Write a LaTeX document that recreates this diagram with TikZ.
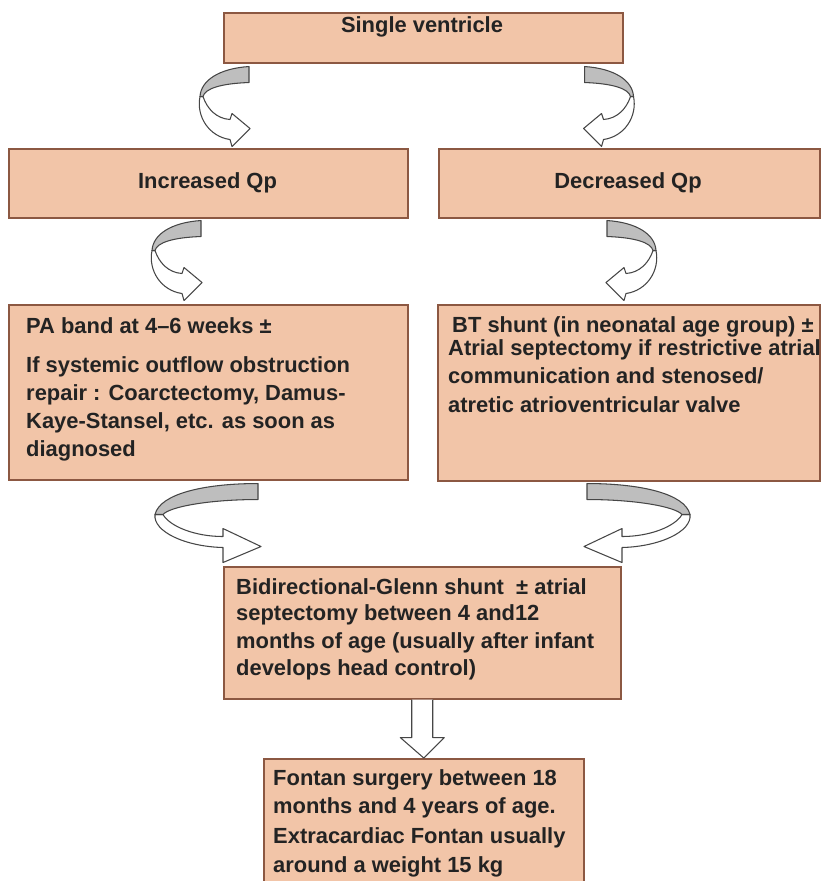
\documentclass[tikz,border=0pt]{standalone}
\usepackage{fontspec}
\setmainfont{Liberation Sans}
\usetikzlibrary{calc}
\definecolor{boxfill}{RGB}{242,197,168}
\definecolor{boxline}{RGB}{140,88,66}
\definecolor{txtc}{RGB}{35,35,35}
\definecolor{arrline}{RGB}{70,70,70}
\definecolor{arrgray}{RGB}{190,190,190}
\tikzset{
  box/.style={draw=boxline, fill=boxfill, line width=1.3pt, rectangle, inner sep=0pt, anchor=north west},
  txt/.style={font=\fontsize{18.7}{23.5}\selectfont\bfseries, text=txtc, inner sep=0pt, anchor=base west},
  ctxt/.style={txt, anchor=base},
  curlline/.style={draw=arrline, line width=0.9pt, line join=round},
  curlsmall/.pic={
    \path[curlline, fill=white] (-49,30) .. controls (-53,50) and (-40,70) .. (-19,73) -- (-17,80) -- (1,62) -- (-17,47) -- (-19,53) .. controls (-33,52) and (-42,42) .. (-46,30) -- cycle;
    \path[curlline, fill=arrgray] (0,0) .. controls (-30,2) and (-48,14) .. (-49,30) -- (-46,30) .. controls (-44,22) and (-28,17) .. (0,16) -- cycle;
  },
  curlbig/.pic={
    \path[curlline, fill=white] (-103,31) .. controls (-105,48) and (-73,63) .. (-35,64) -- (-35,79) -- (3,63) -- (-35,45) -- (-35,53) .. controls (-63,53) and (-88,43) .. (-95,31) -- cycle;
    \path[curlline, fill=arrgray] (0,0) .. controls (-53,0) and (-98,10) .. (-103,31) -- (-95,31) .. controls (-88,23) and (-48,16) .. (0,16) -- cycle;
  }
}
\begin{document}
\begin{tikzpicture}[x=0.03cm, y=-0.03cm]
\useasboundingbox (0,0) rectangle (825,881);
\clip (0,0) rectangle (825,881);
\fill[white] (0,0) rectangle (825,881);

% boxes
\node[box, minimum width=399*0.03cm, minimum height=50*0.03cm] (sv) at (223,12) {};
\node[box, minimum width=399*0.03cm, minimum height=69*0.03cm] (iq) at (8,148) {};
\node[box, minimum width=381*0.03cm, minimum height=69*0.03cm] (dq) at (438,148) {};
\node[box, minimum width=399*0.03cm, minimum height=175*0.03cm] (pa) at (8,304) {};
\node[box, minimum width=382*0.03cm, minimum height=176*0.03cm] (bt) at (437,304) {};
\node[box, minimum width=397*0.03cm, minimum height=132*0.03cm] (gl) at (223,566) {};
\node[box, minimum width=320*0.03cm, minimum height=150*0.03cm] (fo) at (263,758) {};

% texts
\node[ctxt] (svt) at (422,33) {Single ventricle};
\node[ctxt] (iqt) at (207.5,189) {Increased Qp};
\node[ctxt] (dqt) at (628,189) {Decreased Qp};

\node[txt] (pa1) at (26,333) {PA band at 4–6 weeks ±};
\node[txt] (pa2) at (26,372) {If systemic outflow obstruction};
\node[txt] (pa3) at (26,400) {repair : Coarctectomy, Damus-};
\node[txt] (pa4) at (26,428) {Kaye-Stansel, etc. as soon as};
\node[txt] (pa5) at (26,456) {diagnosed};

\node[txt] (bt1) at (452,332) {BT shunt (in neonatal age group) ±};
\node[txt] (bt2) at (448,355) {Atrial septectomy if restrictive atrial};
\node[txt] (bt3) at (448,383) {communication and stenosed/};
\node[txt] (bt4) at (448,412) {atretic atrioventricular valve};

\node[txt] (gl1) at (236,594) {Bidirectional-Glenn shunt\ \ ± atrial};
\node[txt] (gl2) at (236,620) {septectomy between 4 and12};
\node[txt] (gl3) at (236,648) {months of age (usually after infant};
\node[txt] (gl4) at (236,675) {develops head control)};

\node[txt] (fo1) at (273,785) {Fontan surgery between 18};
\node[txt] (fo2) at (273,813) {months and 4 years of age.};
\node[txt] (fo3) at (273,843) {Extracardiac Fontan usually};
\node[txt] (fo4) at (273,872) {around a weight 15 kg};

% curled arrows
\pic at ($(sv.south west)+(26,3)$) {curlsmall};
\pic[xscale=-1] at ($(sv.south east)+(-39,3)$) {curlsmall};
\pic at ($(iq.south west)+(193,2)$) {curlsmall};
\pic[xscale=-1] at ($(dq.south west)+(169,2)$) {curlsmall};
\pic at ($(pa.south west)+(250,3)$) {curlbig};
\pic[xscale=-1] at ($(bt.south west)+(150,2)$) {curlbig};

% straight block arrow
\draw[curlline, fill=white] ($(gl.south)+(-10.5,0)$) -- ++(0,38) -- ++(-11.5,0) -- (fo.north) -- ($(gl.south)+(22,38)$) -- ++(-11.5,0) -- ($(gl.south)+(10.5,0)$);
\end{tikzpicture}
\end{document}
